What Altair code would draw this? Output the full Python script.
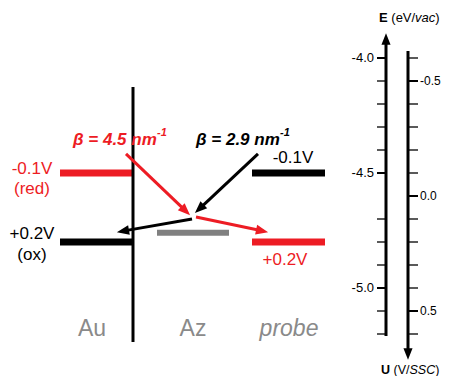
import math
import altair as alt
import pandas as pd

# ---------------- data ----------------
RED, BLACK, GRAY, TGRAY = "#ed1c24", "#000000", "#808080", "#8a8a8a"

# energy levels (eV vs vacuum)
level_names = ["Au (red)", "Au (ox)", "Az", "probe -0.1V", "probe +0.2V"]
level_E = [-4.50, -4.80, -4.76, -4.50, -4.80]
level_colors = [RED, BLACK, GRAY, BLACK, RED]

# level labels
label_texts = ["-0.1V", "(red)", "+0.2V", "(ox)", "-0.1V", "+0.2V"]
label_colors = [RED, RED, BLACK, BLACK, BLACK, RED]

# decay constants
beta_texts = ["\u03b2 = 4.5 nm", "\u03b2 = 2.9 nm"]
beta_sup = ["-1", "-1"]
beta_colors = [RED, BLACK]

# region names
region_texts = ["Au", "Az", "probe"]

# arrows (start E, tip E)
arrow_E0 = [-4.417, -4.417, -4.700, -4.691]
arrow_E1 = [-4.683, -4.674, -4.757, -4.757]
arrow_colors = [RED, BLACK, BLACK, RED]

# axes
E_ticks = [-4.0, -4.1, -4.2, -4.3, -4.4, -4.5, -4.7, -4.8, -4.9, -5.0, -5.1, -5.2]
E_tick_labels = ["-4.0", "-4.5", "-5.0"]
U_ticks = [-0.6, -0.5, -0.4, -0.3, -0.2, -0.1, 0.0, 0.1, 0.2, 0.3, 0.4, 0.5, 0.6]
U_tick_labels = ["-0.5", "0.0", "0.5"]
U_REF = -4.6  # E = U_REF - U

# ---------------- layout ----------------
W, H = 433, 368
PX_PER_EV = 230.0
PY_E4 = 58.0


def E_at(py):
    return -4.0 - (py - PY_E4) / PX_PER_EV


E_top, E_bot = E_at(8), E_at(376)
FONT = "Liberation Sans, Arial, sans-serif"

X = lambda f="x": alt.X(f"{f}:Q", scale=alt.Scale(domain=[8, 441], nice=False, zero=False), axis=None)
Y = lambda f="E": alt.Y(f"{f}:Q", scale=alt.Scale(domain=[E_bot, E_top], nice=False, zero=False), axis=None)

level_x = [(60, 133), (60, 133), (157, 229), (252, 325), (252, 325)]
level_w = [7, 7, 6, 7, 7]

segs = []
for (x0, x1), e, c, w in zip(level_x, level_E, level_colors, level_w):
    segs.append(dict(x=x0, x2=x1, E=e, E2=e, c=c, w=w))
# Au electrode
segs.append(dict(x=133, x2=133, E=E_at(87), E2=E_at(342), c=BLACK, w=3))

# arrows
arrow_x = [(126, 190), (258, 195), (192, 117), (196, 268)]
heads = []


def add_arrow(x0, e0, x1, e1, c, w, size, hl):
    py0 = PY_E4 + (-4.0 - e0) * PX_PER_EV
    py1 = PY_E4 + (-4.0 - e1) * PX_PER_EV
    dx, dy = x1 - x0, py1 - py0
    L = math.hypot(dx, dy)
    ux, uy = dx / L, dy / L
    ang = math.degrees(math.atan2(dx, -dy)) % 360
    cx, cy = x1 - ux * hl / 2, py1 - uy * hl / 2
    ex, ey = x1 - ux * (hl - 2), py1 - uy * (hl - 2)
    segs.append(dict(x=x0, x2=ex, E=e0, E2=E_at(ey), c=c, w=w))
    heads.append(dict(x=cx, E=E_at(cy), a=ang, c=c, s=size))


for (x0, x1), e0, e1, c in zip(arrow_x, arrow_E0, arrow_E1, arrow_colors):
    add_arrow(x0, e0, x1, e1, c, 3, 150, 12)

# axis lines with arrows
add_arrow(386, E_at(336), 386, E_at(33), BLACK, 3, 130, 12)
add_arrow(408, E_at(51), 408, E_at(360), BLACK, 3, 130, 12)

# ticks
for e in E_ticks:
    segs.append(dict(x=377, x2=386, E=e, E2=e, c=BLACK,
                     w=2 if f"{e:.1f}" in E_tick_labels else 1.3))
for u in U_ticks:
    e = U_REF - u
    segs.append(dict(x=408, x2=418, E=e, E2=e, c=BLACK,
                     w=2 if f"{u:.1f}" in U_tick_labels else 1.3))

seg_df = pd.DataFrame(segs)
head_df = pd.DataFrame(heads)

rules = alt.Chart(seg_df).mark_rule(strokeCap="butt").encode(
    x=X(), x2="x2:Q", y=Y(), y2="E2:Q",
    color=alt.Color("c:N", scale=None),
    strokeWidth=alt.StrokeWidth("w:Q", scale=None),
)
arrowheads = alt.Chart(head_df).mark_point(
    shape="M0,-1L0.8,1L-0.8,1Z", filled=True, opacity=1, strokeWidth=0
).encode(
    x=X(), y=Y(),
    color=alt.Color("c:N", scale=None),
    angle=alt.Angle("a:Q", scale=None),
    size=alt.Size("s:Q", scale=None),
)


def text_layer(rows, **props):
    df = pd.DataFrame(rows)
    base = dict(font=FONT, baseline="middle")
    base.update(props)
    return alt.Chart(df).mark_text(**base).encode(
        x=X(), y=Y(), text="t:N", color=alt.Color("c:N", scale=None)
    )


label_pos = [(32, 169), (32, 189), (32, 234), (32, 255), (293, 158), (285, 260)]
t_levels = text_layer(
    [dict(x=p[0], E=E_at(p[1]), t=t, c=c) for p, t, c in zip(label_pos, label_texts, label_colors)],
    align="center", fontSize=17)

beta_pos = [(73, 140), (196, 140)]
t_beta = text_layer(
    [dict(x=p[0], E=E_at(p[1]), t=t, c=c) for p, t, c in zip(beta_pos, beta_texts, beta_colors)],
    align="left", fontSize=17, fontWeight="bold", fontStyle="italic")
t_beta_sup = text_layer(
    [dict(x=p[0] + 84, E=E_at(p[1] - 7), t=t, c=c) for p, t, c in zip(beta_pos, beta_sup, beta_colors)],
    align="left", fontSize=11, fontWeight="bold", fontStyle="italic")

region_x = [92, 193, 289]
t_regions = text_layer(
    [dict(x=region_x[i], E=E_at(329), t=region_texts[i], c=TGRAY) for i in range(2)],
    align="center", fontSize=23)
t_probe = text_layer(
    [dict(x=region_x[2], E=E_at(329), t=region_texts[2], c=TGRAY)],
    align="center", fontSize=23, fontStyle="italic")

t_Eticks = text_layer(
    [dict(x=374, E=float(s), t=s, c=BLACK) for s in E_tick_labels],
    align="right", fontSize=13)
t_Uticks = text_layer(
    [dict(x=420, E=U_REF - float(s), t=s, c=BLACK) for s in U_tick_labels],
    align="left", fontSize=12)

# axis titles (mixed styles)
UY = 369.5
EX, UX = 379, 381
t_bold = text_layer([dict(x=EX, E=E_at(18), t="E", c=BLACK)],
                    align="left", fontSize=13, fontWeight="bold")
t_norm = text_layer([dict(x=EX + 12.3, E=E_at(18), t="(eV/", c=BLACK),
                     dict(x=EX + 56.3, E=E_at(18), t=")", c=BLACK)],
                    align="left", fontSize=13)
t_ital = text_layer([dict(x=EX + 36.1, E=E_at(18), t="vac", c=BLACK)],
                    align="left", fontSize=13, fontStyle="italic")
u_bold = text_layer([dict(x=UX, E=E_at(UY), t="U", c=BLACK)],
                    align="left", fontSize=12.5, fontWeight="bold")
u_norm = text_layer([dict(x=UX + 12.5, E=E_at(UY), t="(V/", c=BLACK),
                     dict(x=UX + 54.2, E=E_at(UY), t=")", c=BLACK)],
                    align="left", fontSize=12.5)
u_ital = text_layer([dict(x=UX + 28.5, E=E_at(UY), t="SSC", c=BLACK)],
                    align="left", fontSize=12.5, fontStyle="italic")

chart = alt.layer(
    rules, arrowheads, t_levels, t_beta, t_beta_sup, t_regions, t_probe,
    t_Eticks, t_Uticks, t_bold, t_norm, t_ital, u_bold, u_norm, u_ital
).properties(
    width=W, height=H, padding=0, autosize=alt.AutoSizeParams(type="none"),
    background="white",
).configure_view(stroke=None)

chart.save("out.html", embed_options={"renderer": "svg", "actions": False})
